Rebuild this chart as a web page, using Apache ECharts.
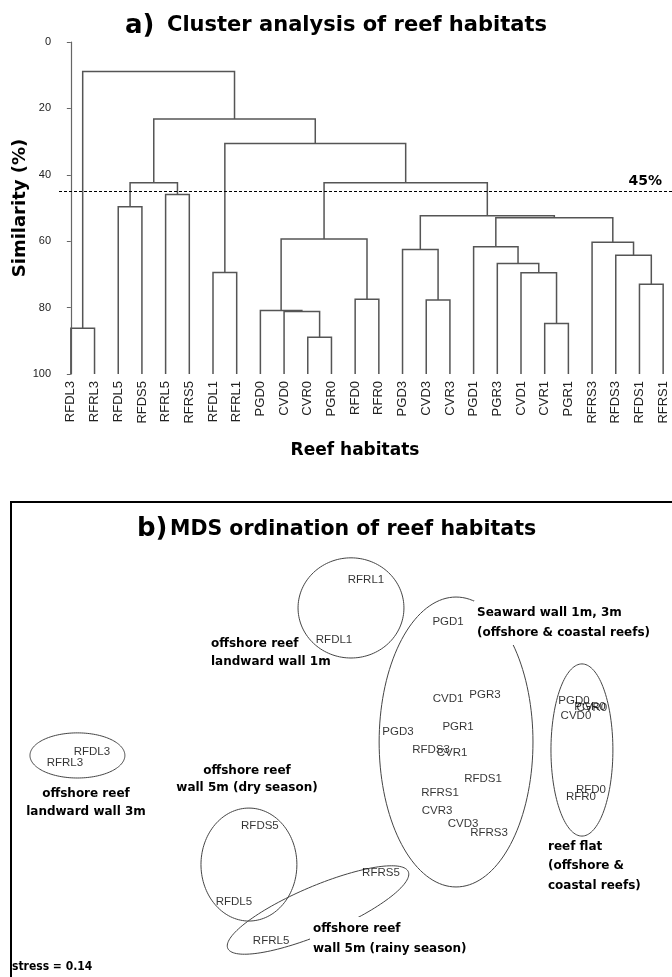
<!DOCTYPE html>
<html>
<head>
<meta charset="utf-8">
<script src="https://cdn.jsdelivr.net/npm/echarts@6/dist/echarts.min.js"></script>
<style>
  html, body { margin: 0; padding: 0; background: #fff; }
  #main { width: 672px; height: 977px; }
</style>
</head>
<body>
<div id="main"></div>
<script>
// ---- a) dendrogram -------------------------------------------------------
// Leaves in plotting order, left to right
const leaves = ['RFDL3', 'RFRL3', 'RFDL5', 'RFDS5', 'RFRL5', 'RFRS5', 'RFDL1', 'RFRL1',
  'PGD0', 'CVD0', 'CVR0', 'PGR0', 'RFD0', 'RFR0', 'PGD3', 'CVD3', 'CVR3',
  'PGD1', 'PGR3', 'CVD1', 'CVR1', 'PGR1', 'RFRS3', 'RFDS3', 'RFDS1', 'RFRS1'];

// Agglomeration steps: members joined (a leaf name, or the number of an earlier step)
const joinA = ['RFDL3', 'RFDL5', 'RFRL5', 1, 'RFDL1', 'CVR0', 'CVD0', 'PGD0', 'RFD0', 7,
  'CVD3', 'PGD3', 'CVR1', 'CVD1', 'PGR3', 'PGD1', 'RFDS1', 'RFDS3', 'RFRS3', 15, 11, 9, 4, 3, 0];
const joinB = ['RFRL3', 'RFDS5', 'RFRS5', 2, 'RFRL1', 'PGR0', 5, 6, 'RFR0', 8,
  'CVR3', 10, 'PGR1', 12, 13, 14, 'RFRS1', 16, 17, 18, 19, 20, 21, 22, 23];
// Similarity (%) at which each step joins
const joinSim = [86.2, 49.6, 45.9, 42.4, 69.4, 88.9, 81.2, 80.9, 77.5, 59.3,
  77.7, 62.5, 84.8, 69.5, 66.7, 61.7, 73.0, 64.2, 60.3, 52.9, 52.3, 42.4, 30.6, 23.2, 8.9];

const simTicks = [0, 20, 40, 60, 80, 100];
const cutLevel = 45;

// ---- b) MDS ordination ---------------------------------------------------
const mdsLabels = ['RFRL1', 'RFDL1', 'PGD1', 'CVD1', 'PGR3', 'PGR1', 'PGD3', 'RFDS3', 'CVR1',
  'RFDS1', 'RFRS1', 'CVR3', 'CVD3', 'RFRS3', 'PGD0', 'PGR0', 'CVR0', 'CVD0', 'RFD0', 'RFR0',
  'RFDL3', 'RFRL3', 'RFDS5', 'RFDL5', 'RFRL5', 'RFRS5'];
const mdsX = [0.132, -0.060, 0.625, 0.625, 0.847, 0.685, 0.324, 0.523, 0.649,
  0.835, 0.577, 0.559, 0.715, 0.871, 1.381, 1.477, 1.489, 1.393, 1.483, 1.423,
  -1.514, -1.676, -0.505, -0.661, -0.438, 0.222];
const mdsY = [1.013, 0.638, 0.750, 0.269, 0.294, 0.094, 0.063, -0.050, -0.069,
  -0.231, -0.319, -0.431, -0.513, -0.569, 0.256, 0.219, 0.213, 0.163, -0.300, -0.344,
  -0.063, -0.131, -0.525, -1.000, -1.244, -0.819];

// Group outlines: centre, half-widths along x and y, and tilt in degrees
const hullX = [0.042, 0.673, 1.429, -1.601, -0.571, -0.156];
const hullY = [0.838, 0.000, -0.050, -0.084, -0.766, -1.050];
const hullRx = [0.318, 0.462, 0.186, 0.285, 0.288, 0.589];
const hullRy = [0.313, 0.906, 0.538, 0.141, 0.353, 0.150];
const hullTilt = [0, 0, 0, 0, 0, 23];

const stressValue = 0.14;

// ---- tree layout: each leaf at its index, each join at the midpoint of its members
function member(ref, built) {
  return typeof ref === 'number' ? built[ref] : { x: leaves.indexOf(ref), h: 100 };
}
const built = [];
const links = [];
joinSim.forEach(function (h, i) {
  const a = member(joinA[i], built);
  const b = member(joinB[i], built);
  built.push({ x: (a.x + b.x) / 2, h: h });
  links.push([a.x, a.h, b.x, b.h, h]);
});

function ellipsePoints(cx, cy, rx, ry, tiltDeg) {
  const t = tiltDeg * Math.PI / 180, c = Math.cos(t), s = Math.sin(t);
  const pts = [];
  for (let k = 0; k < 144; k++) {
    const a = k / 144 * 2 * Math.PI;
    const u = rx * Math.cos(a), v = ry * Math.sin(a);
    pts.push([cx + u * c + v * s, cy - u * s + v * c]);
  }
  return pts;
}

const boldFont = '"DejaVu Sans", Verdana, sans-serif';
const plainFont = '"Liberation Sans", Arial, sans-serif';

function note(x, y, text, align, lh, bg) {
  return {
    type: 'text', x: x, y: y, z: 100,
    style: {
      text: text, fontFamily: boldFont, fontWeight: 'bold', fontSize: 12,
      fill: '#000', align: align, verticalAlign: 'middle', lineHeight: lh,
      backgroundColor: bg ? '#fff' : null, padding: bg ? [2, 3] : 0
    }
  };
}

const chart = echarts.init(document.getElementById('main'));

chart.setOption({
  animation: false,
  backgroundColor: '#fff',
  grid: [
    { left: 59, right: -3, top: 42, height: 332, containLabel: false, outerBoundsMode: 'none' },
    { left: 11, right: -5, top: 502, bottom: -5, containLabel: false, outerBoundsMode: 'none',
      show: true, borderColor: '#000', borderWidth: 2, backgroundColor: 'transparent' }
  ],
  xAxis: [
    {
      type: 'category', gridIndex: 0, data: leaves, boundaryGap: true,
      axisLine: { show: false }, axisTick: { show: false },
      axisLabel: { rotate: 90, interval: 0, margin: 7, fontSize: 13, color: '#222', fontFamily: plainFont },
      name: 'Reef habitats', nameLocation: 'middle', nameGap: 68, nameMoveOverlap: false,
      nameTextStyle: { fontFamily: boldFont, fontWeight: 'bold', fontSize: 17, color: '#000', padding: [0, 24, 0, 0] }
    },
    { type: 'value', gridIndex: 0, min: -0.5, max: leaves.length - 0.5, show: false },
    { type: 'value', gridIndex: 1, min: -2, max: 2, show: false }
  ],
  yAxis: [
    {
      type: 'value', gridIndex: 0, inverse: true, min: simTicks[0], max: simTicks[simTicks.length - 1], interval: 20,
      axisLine: { show: true, lineStyle: { color: '#666', width: 1.2 } },
      axisTick: { show: true, inside: false, length: 4, lineStyle: { color: '#666' } },
      axisLabel: { fontSize: 11, color: '#222', margin: 8, fontFamily: plainFont },
      splitLine: { show: false },
      name: 'Similarity (%)', nameLocation: 'middle', nameGap: 30, nameRotate: 90, nameMoveOverlap: false,
      nameTextStyle: { fontFamily: boldFont, fontWeight: 'bold', fontSize: 18, color: '#000' }
    },
    { type: 'value', gridIndex: 1, min: -1.5, max: 1.5, show: false }
  ],
  series: [
    {
      type: 'custom', name: 'tree', xAxisIndex: 1, yAxisIndex: 0,
      encode: { x: [0, 2], y: [1, 3, 4] },
      data: links,
      renderItem: function (params, api) {
        const p1 = api.coord([api.value(0), api.value(1)]);
        const p2 = api.coord([api.value(0), api.value(4)]);
        const p3 = api.coord([api.value(2), api.value(4)]);
        const p4 = api.coord([api.value(2), api.value(3)]);
        return {
          type: 'polyline', shape: { points: [p1, p2, p3, p4] },
          style: { fill: 'none', stroke: '#555', lineWidth: 1.5 }
        };
      },
      markLine: {
        silent: true, symbol: 'none',
        lineStyle: { type: [3, 2], color: '#000', width: 1 },
        label: {
          show: true, position: 'insideEndTop', formatter: cutLevel + '%',
          fontFamily: boldFont, fontWeight: 'bold', fontSize: 14, color: '#000', distance: [13, 3]
        },
        data: [{ yAxis: cutLevel }]
      }
    },
    {
      type: 'custom', name: 'groups', xAxisIndex: 2, yAxisIndex: 1,
      data: hullX.map(function (x, i) { return [x, hullY[i], hullRx[i], hullRy[i], hullTilt[i]]; }),
      renderItem: function (params, api) {
        const c = api.coord([api.value(0), api.value(1)]);
        const rx = api.size([api.value(2), 0])[0];
        const ry = api.size([0, api.value(3)])[1];
        return {
          type: 'polygon', shape: { points: ellipsePoints(c[0], c[1], rx, ry, api.value(4)) },
          style: { fill: 'none', stroke: '#444', lineWidth: 1 }
        };
      }
    },
    {
      type: 'scatter', name: 'sites', xAxisIndex: 2, yAxisIndex: 1,
      symbol: 'circle', symbolSize: 1, itemStyle: { color: 'rgba(0,0,0,0)' },
      data: mdsLabels.map(function (n, i) { return { name: n, value: [mdsX[i], mdsY[i]] }; }),
      label: {
        show: true, position: 'inside', formatter: '{b}',
        fontFamily: plainFont, fontSize: 11.5, color: '#000'
      },
      labelLayout: { hideOverlap: false }
    }
  ],
  graphic: [
    { type: 'text', x: 125, y: 26, style: { text: 'a)', fontFamily: boldFont, fontWeight: 'bold', fontSize: 26, fill: '#000', verticalAlign: 'middle' } },
    { type: 'text', x: 167, y: 26, style: { text: 'Cluster analysis of reef habitats', fontFamily: boldFont, fontWeight: 'bold', fontSize: 21, fill: '#000', verticalAlign: 'middle' } },
    { type: 'text', x: 137, y: 529, style: { text: 'b)', fontFamily: boldFont, fontWeight: 'bold', fontSize: 26, fill: '#000', verticalAlign: 'middle' } },
    { type: 'text', x: 170, y: 530, style: { text: 'MDS ordination of reef habitats', fontFamily: boldFont, fontWeight: 'bold', fontSize: 20.5, fill: '#000', verticalAlign: 'middle' } },
    note(211, 653, 'offshore reef\nlandward wall 1m', 'left', 18, false),
    note(474, 623, 'Seaward wall 1m, 3m\n(offshore & coastal reefs)', 'left', 20, true),
    note(86, 803, 'offshore reef\nlandward wall 3m', 'center', 18, false),
    note(247, 779, 'offshore reef\nwall 5m (dry season)', 'center', 17, false),
    note(310, 939, 'offshore reef\nwall 5m (rainy season)', 'left', 20, true),
    note(548, 866, 'reef flat\n(offshore &\ncoastal reefs)', 'left', 19.5, false),
    {
      type: 'text', x: 12, y: 967, z: 100,
      style: { text: 'stress = ' + stressValue.toFixed(2), fontFamily: '"DejaVu Sans Condensed", "DejaVu Sans", sans-serif', fontWeight: 'bold', fontSize: 12, fill: '#000', verticalAlign: 'middle' }
    }
  ]
});
</script>
</body>
</html>
